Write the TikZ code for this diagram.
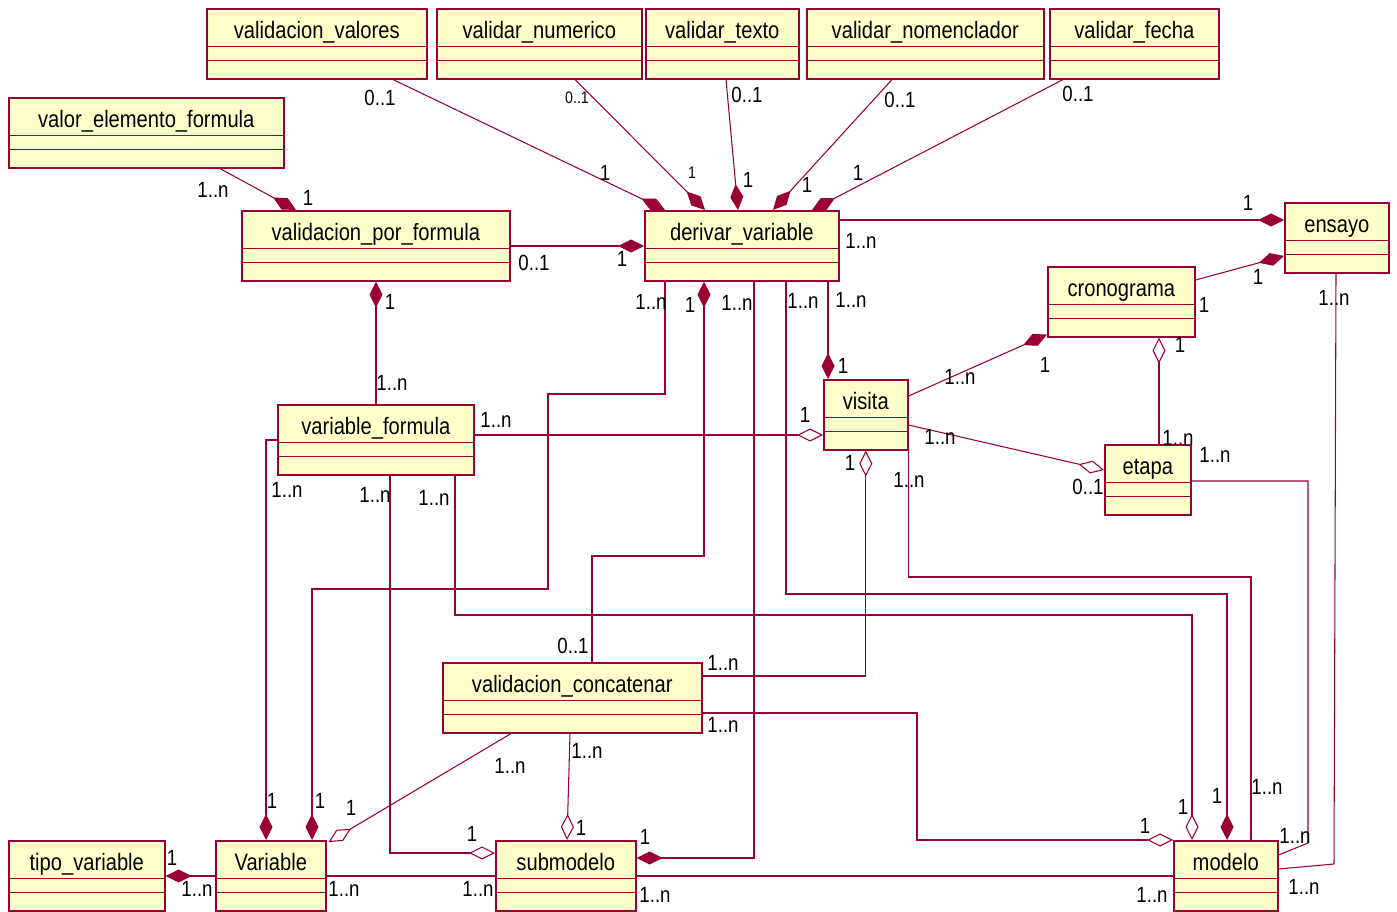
\documentclass[tikz,border=0pt]{standalone}
\usepackage{fontspec}
\setmainfont{Liberation Sans}[FakeStretch=0.85]
\usetikzlibrary{arrows.meta,calc}

\definecolor{umlred}{HTML}{990033}
\definecolor{umlfill}{HTML}{FFFFCC}

\tikzset{
  umlclass/.style={draw=umlred, fill=umlfill, line width=0.9pt, anchor=north west,
    minimum width=#1*0.02cm, inner xsep=0pt, inner ysep=0pt,
    text height=0.6cm, text depth=0.8cm, font=\fontsize{13.5}{16}\selectfont,
    path picture={\draw[umlred, line width=0.7pt]
      ([yshift=-0.76cm]path picture bounding box.north west) -- ([yshift=-0.76cm]path picture bounding box.north east)
      ([yshift=-1.04cm]path picture bounding box.north west) -- ([yshift=-1.04cm]path picture bounding box.north east);}},
  assoc/.style={draw=umlred, line width=0.6pt},
  comp/.style={assoc, -{Diamond[length=0.52cm, width=0.26cm]}},
  compstart/.style={assoc, {Diamond[length=0.52cm, width=0.26cm]}-},
  aggr/.style={assoc, -{Diamond[length=0.52cm, width=0.26cm, fill=white]}},
  aggrstart/.style={assoc, {Diamond[length=0.52cm, width=0.26cm, fill=white]}-},
  mult/.style={font=\fontsize{12.5}{14}\selectfont, inner sep=0pt},
  smallmult/.style={font=\fontsize{9.5}{11}\selectfont, inner sep=0pt}
}

\begin{document}
\begin{tikzpicture}[x=0.02cm, y=-0.02cm]
  \useasboundingbox (0,0) rectangle (1397,912);

  % clases
  \node[umlclass=220] (vvalores) at (206,8) {validacion\_valores};
  \node[umlclass=205] (vnumerico) at (436,8) {validar\_numerico};
  \node[umlclass=153] (vtexto) at (645,8) {validar\_texto};
  \node[umlclass=237] (vnomenclador) at (806,8) {validar\_nomenclador};
  \node[umlclass=169] (vfecha) at (1049,8) {validar\_fecha};
  \node[umlclass=275] (velemento) at (8,97) {valor\_elemento\_formula};
  \node[umlclass=268] (vformula) at (241,210) {validacion\_por\_formula};
  \node[umlclass=194] (derivar) at (644,210) {derivar\_variable};
  \node[umlclass=104] (ensayo) at (1284,202) {ensayo};
  \node[umlclass=147] (cronograma) at (1047,266) {cronograma};
  \node[umlclass=84] (visita) at (823,379) {visita};
  \node[umlclass=196] (varformula) at (277,404) {variable\_formula};
  \node[umlclass=86] (etapa) at (1104,444) {etapa};
  \node[umlclass=259] (vconcat) at (442,662) {validacion\_concatenar};
  \node[umlclass=156] (tipovar) at (8,840) {tipo\_variable};
  \node[umlclass=110] (variable) at (215,840) {Variable};
  \node[umlclass=140] (submodelo) at (495,840) {submodelo};
  \node[umlclass=104] (modelo) at (1173,840) {modelo};

  % validaciones de derivar_variable
  \draw[comp] ($(velemento.south west)+(212,0)$) -- ($(vformula.north west)+(55,0)$);
  \draw[comp] ($(vvalores.south west)+(187,0)$) -- ($(derivar.north west)+(21,0)$);
  \draw[comp] ($(vnumerico.south west)+(139,0)$) -- ($(derivar.north west)+(61,0)$);
  \draw[comp] ($(vtexto.south west)+(81,0)$) -- ($(derivar.north west)+(94,0)$);
  \draw[comp] ($(vnomenclador.south west)+(86,0)$) -- ($(derivar.north west)+(129,0)$);
  \draw[comp] ($(vfecha.south west)+(14,0)$) -- ($(derivar.north west)+(168,0)$);
  \draw[comp] ($(vformula.north east)+(0,36)$) -- ($(derivar.north west)+(0,36)$);
  \draw[comp] ($(derivar.north east)+(0,10)$) -- ($(ensayo.north west)+(0,18)$);
  \draw[comp] ($(cronograma.north east)+(0,14)$) -- ($(ensayo.north west)+(0,54)$);
  \draw[compstart] ($(vformula.south west)+(135,0)$) -- ($(varformula.north west)+(99,0)$);

  % visita, cronograma, etapa
  \draw[comp] ($(derivar.south west)+(184,0)$) -- ($(visita.north west)+(5,0)$);
  \draw[comp] ($(visita.north east)+(0,17)$) -- ($(cronograma.south west)+(0,-3)$);
  \draw[aggrstart] ($(cronograma.south west)+(112,0)$) -- ($(etapa.north west)+(55,0)$);
  \draw[aggr] ($(visita.north east)+(0,46)$) -- ($(etapa.north west)+(0,26)$);
  \draw[aggr] ($(varformula.north east)+(0,31)$) -- ($(visita.north west)+(0,56)$);
  \draw[aggrstart] (visita.south) |- ($(vconcat.north east)+(0,14)$);

  % conectores largos
  \draw[comp] ($(derivar.south west)+(21,0)$) |- (548,394) -- (548,589) -| ($(variable.north west)+(97,0)$);
  \draw[compstart] ($(derivar.south west)+(60,0)$) -- (704,556) -| ($(vconcat.north west)+(150,0)$);
  \draw[comp] ($(derivar.south west)+(110,0)$) |- ($(submodelo.north east)+(0,18)$);
  \draw[comp] ($(derivar.south west)+(142,0)$) |- (1227,594) -- ($(modelo.north west)+(54,0)$);
  \draw[assoc] (visita.south east) |- (1251,577) -- ($(modelo.north west)+(78,0)$);
  \draw[aggr] ($(varformula.south west)+(178,0)$) |- (1192,615) -- ($(modelo.north west)+(19,0)$);
  \draw[aggr] ($(varformula.south west)+(113,0)$) |- ($(submodelo.north west)+(0,13)$);
  \draw[comp] ($(varformula.north west)+(0,36)$) -| ($(variable.north west)+(51,0)$);

  % validacion_concatenar
  \draw[aggr] ($(vconcat.south west)+(69,0)$) -- ($(variable.north east)+(2,2)$);
  \draw[aggr] ($(vconcat.south west)+(128,0)$) -- ($(submodelo.north west)+(72,0)$);
  \draw[aggr] ($(vconcat.north east)+(0,51)$) -- (917,713) |- (modelo.north west);

  % fila de abajo
  \draw[comp] ($(variable.north west)+(0,36)$) -- ($(tipovar.north east)+(0,36)$);
  \draw[assoc] ($(variable.north east)+(0,36)$) -- ($(submodelo.north west)+(0,36)$);
  \draw[assoc] ($(submodelo.north east)+(0,36)$) -- ($(modelo.north west)+(0,36)$);
  \draw[assoc] ($(etapa.north east)+(0,37)$) -| (1308,843) -- ($(modelo.north east)+(0,15)$);
  \draw[assoc] ($(ensayo.south west)+(52,0)$) -- (1334,864) -- ($(modelo.north east)+(0,29)$);

  % multiplicidades
  \foreach \x/\y/\t [count=\i] in {
      213/190/1..n, 308/198/1, 380/98/0..1, 605/173/1, 747/95/0..1, 748/180/1,
      900/100/0..1, 807/185/1, 1078/94/0..1, 858/173/1, 534/263/0..1, 622/259/1,
      861/241/1..n, 1248/203/1, 1258/277/1, 1204/305/1, 390/302/1, 392/383/1..n,
      651/302/1..n, 690/305/1, 737/303/1..n, 803/301/1..n, 851/300/1..n, 843/366/1,
      960/377/1..n, 1045/365/1, 1180/345/1, 1178/438/1..n, 1215/455/1..n, 940/437/1..n,
      1088/487/0..1, 496/420/1..n, 805/415/1, 850/463/1, 909/480/1..n, 1334/298/1..n,
      287/490/1..n, 375/495/1..n, 434/498/1..n, 573/646/0..1, 723/663/1..n, 723/725/1..n,
      510/766/1..n, 587/751/1..n, 272/801/1, 320/801/1, 351/808/1, 472/834/1,
      581/828/1, 645/837/1, 1145/826/1, 1183/807/1, 1217/796/1, 1267/787/1..n,
      1295/836/1..n, 1304/887/1..n, 172/858/1, 197/889/1..n, 344/889/1..n, 478/889/1..n,
      655/895/1..n, 1152/895/1..n}
    \node[mult] (m\i) at (\x,\y) {\t};
  \node[smallmult] (mnum) at (577,98) {0..1};
  \node[smallmult] (mnumd) at (692,173) {1};
\end{tikzpicture}
\end{document}
